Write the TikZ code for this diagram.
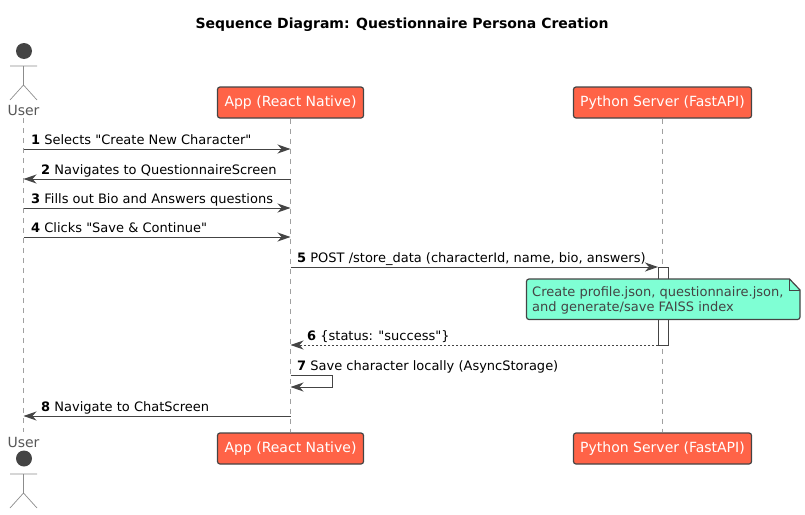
\documentclass[tikz,border=0pt]{standalone}
\usepackage{fontspec}
\newfontfamily\dejavu{DejaVu Sans}
\usetikzlibrary{arrows.meta}
\definecolor{boxred}{HTML}{FF6347}
\definecolor{notegreen}{HTML}{7FFFD4}
\definecolor{inkgray}{HTML}{444444}
\definecolor{linegray}{HTML}{8C8C8C}
\definecolor{lifegray}{HTML}{A0A0A0}
\tikzset{
  partbox/.style={draw=inkgray,line width=1.2pt,fill=boxred,rounded corners=2.5pt,text=white,
    minimum height=31pt,inner sep=0pt,font=\dejavu\fontsize{14}{16}\selectfont},
  actorname/.style={text=inkgray!90,anchor=base,inner sep=0pt,font=\dejavu\fontsize{14}{16}\selectfont},
  actorline/.style={draw=linegray,line width=0.7pt},
  lifeline/.style={draw=lifegray,line width=0.7pt,dash pattern=on 5pt off 5pt},
  msg/.style={draw=inkgray,line width=1pt,-{Stealth[length=13pt,width=9pt,inset=4pt]}},
  msgtext/.style={anchor=base west,inner sep=0pt,font=\dejavu\fontsize{13}{15}\selectfont},
  activation/.style={draw=inkgray,line width=1pt,fill=white}
}
\begin{document}
\begin{tikzpicture}[x=1pt,y=-1pt]
  \useasboundingbox (0,0) rectangle (805,514);
  \node[anchor=base,inner sep=0pt,font=\dejavu\fontsize{14}{16}\selectfont\bfseries] (title) at (402,28) {Sequence Diagram: Questionnaire Persona Creation};
  % participants
  \node[partbox,minimum width=146pt] (apptop) at (290.5,102.5) {App (React Native)};
  \node[partbox,minimum width=178pt] (srvtop) at (662.5,102.5) {Python Server (FastAPI)};
  \node[partbox,minimum width=146pt] (appbot) at (290.5,448.5) {App (React Native)};
  \node[partbox,minimum width=178pt] (srvbot) at (662.5,448.5) {Python Server (FastAPI)};
  \node[actorname] (usertop) at (23.5,115) {User};
  \node[actorname] (userbot) at (23.5,447) {User};
  \draw
    (23.5,149) coordinate (u1)
    (23.5,179) coordinate (u2)
    (23.5,208) coordinate (u3)
    (23.5,237) coordinate (u4)
    (23.5,416) coordinate (u8)
    (23.5,118) coordinate (ulife)
    (23.5,432) coordinate (ulifeb)
    (290.5,149) coordinate (a1)
    (290.5,179) coordinate (a2)
    (290.5,208) coordinate (a3)
    (290.5,237) coordinate (a4)
    (290.5,267) coordinate (a5)
    (290.5,345) coordinate (a6)
    (290.5,375) coordinate (a7)
    (290.5,387) coordinate (a7b)
    (332.5,375) coordinate (s7)
    (332.5,387) coordinate (s7b)
    (290.5,416) coordinate (a8)
    (658,267) coordinate (s5)
    (658,345) coordinate (s6)
    (668,267) coordinate (s5b);
  % lifelines
  \begin{scope}[lifeline]
    \draw (ulife) to (ulifeb);
    \draw (apptop.south) to (appbot.north);
    \draw (srvtop.south) to (srvbot.north);
  \end{scope}
  % actors
  \begin{scope}[actorline]
    \draw (10,66) -- (37,66) (23.5,66) -- (23.5,85) -- (10,100) (23.5,85) -- (37,100);
    \draw (10,474) -- (37,474) (23.5,474) -- (23.5,493) -- (10,508) (23.5,493) -- (37,508);
  \end{scope}
  \fill[inkgray] (24,51) circle (8);
  \fill[inkgray] (24,458.5) circle (8);
  % activation and note
  \draw[activation] (s5) rectangle (s6 -| s5b);
  \draw[draw=inkgray,line width=1.2pt,fill=notegreen,rounded corners=2.5pt]
    (526.5,279) [sharp corners] -- (789.5,279) -- (800,290) [rounded corners=2.5pt] -- (800,319.5) -- (526.5,319.5) -- cycle;
  \draw[draw=inkgray,line width=1pt] (789.5,279) -- (789.5,290) -- (800,290);
  \node[msgtext,text=inkgray] (note1) at (532,296) {Create profile.json, questionnaire.json,};
  \node[msgtext,text=inkgray] (note2) at (532,311) {and generate/save FAISS index};
  % messages
  \begin{scope}[msg]
    \draw (u1) to (a1);
    \draw (a2) to (u2);
    \draw (u3) to (a3);
    \draw (u4) to (a4);
    \draw (a5) to (s5);
    \draw[dash pattern=on 2pt off 2pt] (s6) to (a6);
    \draw (a7) -- (s7) -- (s7b) -- (a7b);
    \draw (a8) to (u8);
  \end{scope}
  \node[msgtext] (m1) at (31,144.5) {\textbf{1} Selects "Create New Character"};
  \node[msgtext] (m2) at (41,174.5) {\textbf{2} Navigates to QuestionnaireScreen};
  \node[msgtext] (m3) at (31,203.5) {\textbf{3} Fills out Bio and Answers questions};
  \node[msgtext] (m4) at (31,232.5) {\textbf{4} Clicks "Save \& Continue"};
  \node[msgtext] (m5) at (297,262.5) {\textbf{5} POST /store\_data (characterId, name, bio, answers)};
  \node[msgtext] (m6) at (307,340.5) {\textbf{6} \{status: "success"\}};
  \node[msgtext] (m7) at (297,370.5) {\textbf{7} Save character locally (AsyncStorage)};
  \node[msgtext] (m8) at (41,411.5) {\textbf{8} Navigate to ChatScreen};
\end{tikzpicture}
\end{document}
